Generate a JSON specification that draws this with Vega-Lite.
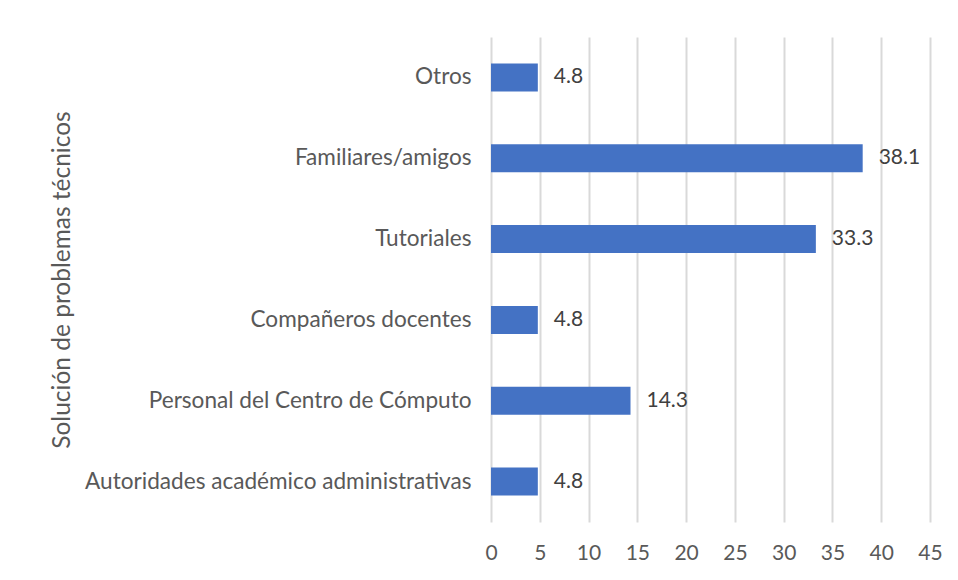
{
  "$schema": "https://vega.github.io/schema/vega-lite/v6.json",
  "autosize": {"type": "none"},
  "width": 439,
  "height": 485,
  "padding": {"left": 491, "top": 37, "right": 28, "bottom": 58},
  "background": "white",
  "config": {
    "view": {"stroke": null},
    "font": "Lato",
    "axis": {"labelFont": "Lato", "titleFont": "Lato", "labelColor": "#595959", "titleColor": "#595959"}
  },
  "data": {
    "values": [
      {"categoria": "Otros", "valor": 4.8},
      {"categoria": "Familiares/amigos", "valor": 38.1},
      {"categoria": "Tutoriales", "valor": 33.3},
      {"categoria": "Compañeros docentes", "valor": 4.8},
      {"categoria": "Personal del Centro de Cómputo", "valor": 14.3},
      {"categoria": "Autoridades académico administrativas", "valor": 4.8}
    ]
  },
  "encoding": {
    "y": {
      "field": "categoria",
      "type": "nominal",
      "sort": null,
      "scale": {"paddingInner": 0.653, "paddingOuter": 0.3265},
      "axis": {
        "title": "Solución de problemas técnicos",
        "titleFontSize": 24.5,
        "titleFontWeight": "normal",
        "titleX": -429,
        "titleY": 242.5,
        "titleAngle": -90,
        "titleAlign": "center",
        "titleBaseline": "middle",
        "labelFontSize": 22.6,
        "labelPadding": 20,
        "ticks": false,
        "domain": false,
        "labelLimit": 500
      }
    },
    "x": {
      "field": "valor",
      "type": "quantitative",
      "scale": {"domain": [0, 45], "nice": false},
      "axis": {
        "title": null,
        "values": [0, 5, 10, 15, 20, 25, 30, 35, 40, 45],
        "labelFontSize": 21,
        "labelPadding": 20,
        "labelFlush": false,
        "ticks": false,
        "domain": false,
        "grid": true,
        "gridColor": "#d9d9d9",
        "gridWidth": 2
      }
    }
  },
  "layer": [
    {"mark": {"type": "bar", "color": "#4472C4"}},
    {
      "mark": {"type": "text", "align": "left", "baseline": "middle", "dx": 16, "fontSize": 21, "color": "#404040", "font": "Lato"},
      "encoding": {"text": {"field": "valor", "type": "quantitative", "format": ".1f"}}
    }
  ]
}
